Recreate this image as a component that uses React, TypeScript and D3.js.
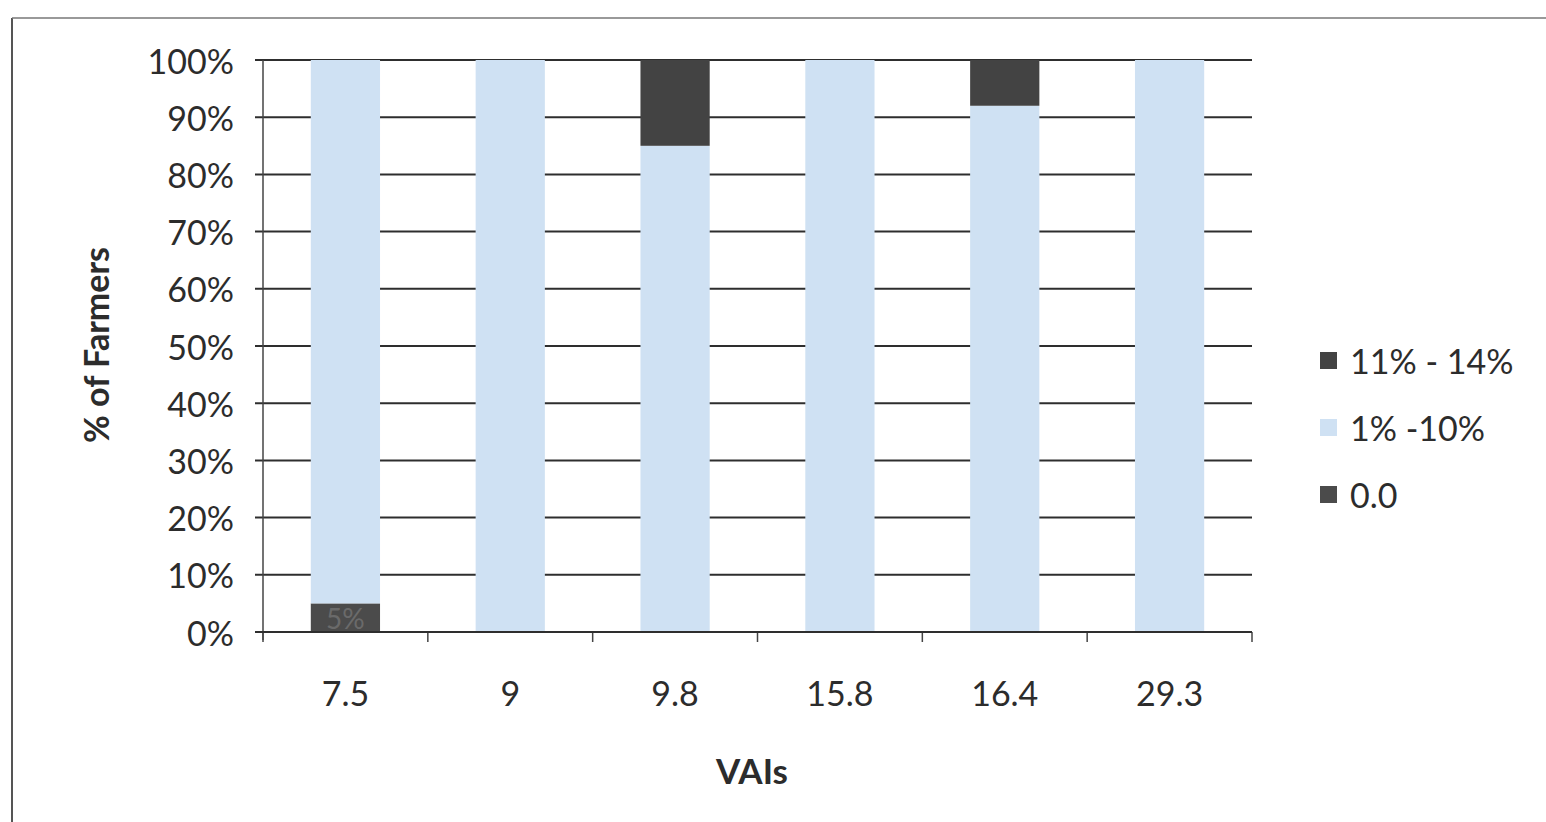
import React from "react";
import * as d3 from "d3";

// VAI categories and the share of farmers in each damage class (percent)
const categories = ["7.5", "9", "9.8", "15.8", "16.4", "29.3"];
const zeroShare = [5, 0, 0, 0, 0, 0];
const lowShare = [95, 100, 85, 100, 92, 100];
const highShare = [0, 0, 15, 0, 8, 0];
const seriesNames = ["0.0", "1% -10%", "11% - 14%"];
const yTicks = [0, 10, 20, 30, 40, 50, 60, 70, 80, 90, 100];

const W = 1546;
const H = 822;
const plot = { left: 263, right: 1252, top: 60, bottom: 632 };
const colors: Record<string, string> = {
  "0.0": "#4b4b4b",
  "1% -10%": "#cfe1f3",
  "11% - 14%": "#434343",
};
const textColor = "#2c2c2c";
const font = "Lato, 'Open Sans', sans-serif";

export default function App() {
  const rows = categories.map((c, i) => ({
    cat: c,
    "0.0": zeroShare[i],
    "1% -10%": lowShare[i],
    "11% - 14%": highShare[i],
  }));
  const stacked = d3.stack<any>().keys(seriesNames)(rows);

  const x = d3
    .scaleBand<string>()
    .domain(categories)
    .range([plot.left, plot.right])
    .paddingInner(0.58)
    .paddingOuter(0.29);
  const step = (plot.right - plot.left) / categories.length;
  const y = d3.scaleLinear().domain([0, 100]).range([plot.bottom, plot.top]);

  const legendOrder = [...seriesNames].reverse();

  return (
    <svg
      width={W}
      height={H}
      style={{ position: "absolute", left: 0, top: 0, background: "#fff" }}
      fontFamily={font}
    >
      {/* frame */}
      <line x1={12} y1={18} x2={12} y2={H} stroke="#555" strokeWidth={2} />
      <line x1={12} y1={18} x2={W} y2={18} stroke="#777" strokeWidth={1.5} />

      {/* gridlines */}
      {yTicks.map((t) => (
        <line
          key={"g" + t}
          x1={plot.left - 8}
          x2={plot.right}
          y1={y(t)}
          y2={y(t)}
          stroke="#2e2e2e"
          strokeWidth={2}
        />
      ))}

      {/* y axis */}
      <line x1={plot.left} x2={plot.left} y1={plot.top} y2={plot.bottom + 8} stroke="#444" strokeWidth={1.5} />
      {yTicks.map((t) => (
        <text
          key={"yl" + t}
          x={plot.left - 29}
          y={y(t)}
          textAnchor="end"
          dominantBaseline="central"
          fontSize={34}
          fill={textColor}
        >
          {t}%
        </text>
      ))}

      {/* x axis ticks between categories */}
      {d3.range(categories.length + 1).map((i) => (
        <line
          key={"xt" + i}
          x1={plot.left + i * step}
          x2={plot.left + i * step}
          y1={plot.bottom}
          y2={plot.bottom + 10}
          stroke="#444"
          strokeWidth={1.5}
        />
      ))}

      {/* stacked bars */}
      {stacked.map((s) =>
        s.map((d, i) =>
          d[1] - d[0] > 0 ? (
            <rect
              key={s.key + i}
              x={x(categories[i])}
              y={y(d[1])}
              width={x.bandwidth()}
              height={y(d[0]) - y(d[1])}
              fill={colors[s.key]}
            />
          ) : null
        )
      )}

      {/* value label on the 0.0 segment */}
      {stacked[0].map((d, i) =>
        d[1] - d[0] > 0 ? (
          <text
            key={"vl" + i}
            x={(x(categories[i]) as number) + x.bandwidth() / 2}
            y={(y(d[0]) + y(d[1])) / 2}
            textAnchor="middle"
            dominantBaseline="central"
            fontSize={28}
            fill="#6a6a6a"
          >
            {zeroShare[i]}%
          </text>
        ) : null
      )}

      {/* x axis line */}
      <line x1={plot.left - 8} x2={plot.right} y1={plot.bottom} y2={plot.bottom} stroke="#2e2e2e" strokeWidth={2} />

      {/* category labels */}
      {categories.map((c) => (
        <text
          key={"xl" + c}
          x={(x(c) as number) + x.bandwidth() / 2}
          y={692}
          textAnchor="middle"
          dominantBaseline="central"
          fontSize={34}
          fill={textColor}
        >
          {c}
        </text>
      ))}

      {/* axis titles */}
      <text
        x={752}
        y={770}
        textAnchor="middle"
        dominantBaseline="central"
        fontSize={35}
        fontWeight="bold"
        fill={textColor}
      >
        VAIs
      </text>
      <text
        transform="translate(95,345) rotate(-90)"
        textAnchor="middle"
        dominantBaseline="central"
        fontSize={34}
        fontWeight="bold"
        fill={textColor}
      >
        % of Farmers
      </text>

      {/* legend */}
      {legendOrder.map((k, i) => (
        <g key={"lg" + k} transform={`translate(1320, ${360 + i * 67})`}>
          <rect x={0} y={-8} width={17} height={17} fill={colors[k]} />
          <text x={30} y={0} dominantBaseline="central" fontSize={34} fill={textColor}>
            {k}
          </text>
        </g>
      ))}
    </svg>
  );
}
